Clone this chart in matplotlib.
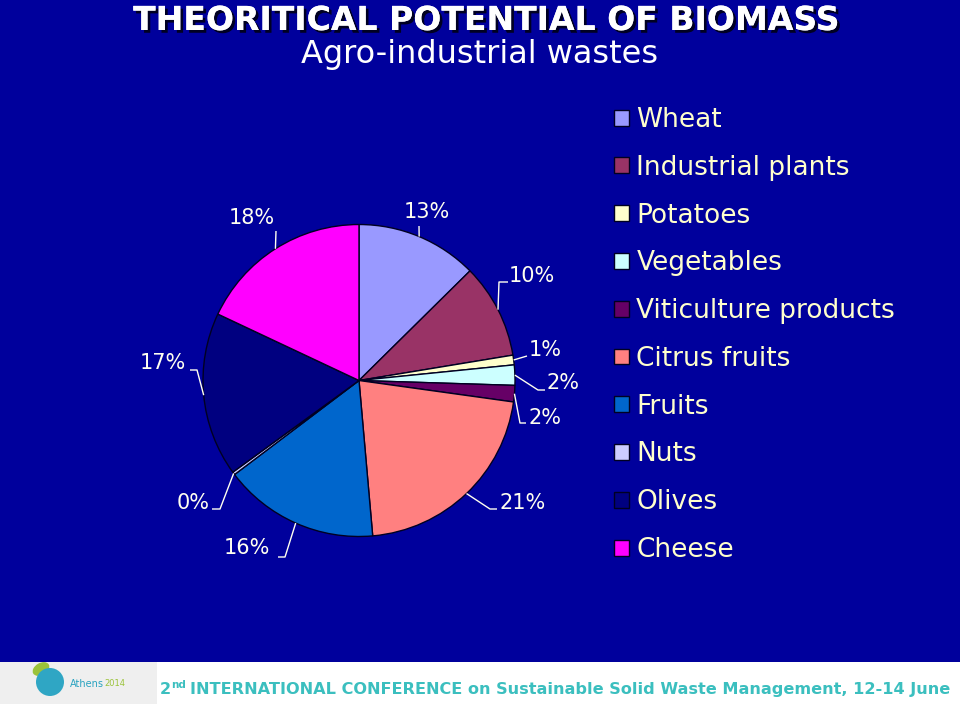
import matplotlib
matplotlib.use("Agg")
import matplotlib.pyplot as plt
import matplotlib.patheffects as pe
from matplotlib.patches import Rectangle, Circle, Ellipse
import numpy as np

W, H = 960, 704

# data
categories = ['Wheat', 'Industrial plants', 'Potatoes', 'Vegetables',
              'Viticulture products', 'Citrus fruits', 'Fruits', 'Nuts',
              'Olives', 'Cheese']
shares = [12.6, 9.8, 1.0, 2.1, 1.7, 21.4, 16.1, 0.3, 17.0, 18.0]
colors = ['#9999FF', '#993366', '#FFFFCC', '#CCFFFF', '#660066',
          '#FF8080', '#0066CC', '#CCCCFF', '#000080', '#FF00FF']

# label layout, pixel coords from top-left: text centre, elbow, tick end
label_pos = [(427, 212), (532, 276), (545, 350), (563, 383), (545, 418),
             (523, 503), (247, 548), (193, 503), (163, 363), (252, 218)]
elbows = [(419, 226), (499, 282), (527, 356), (538, 390), (520, 423),
          (490, 509), (285, 557), (220, 509), (197, 370), (276, 231)]
ticks = [(419, 226), (508, 282), (527, 356), (545, 390), (526, 423),
         (497, 509), (278, 557), (212, 509), (190, 370), (276, 231)]

BG = '#00009C'
LABEL_C = '#FFFFF0'
LEGEND_C = '#FFFFCC'


def fy(y):
    return H - y


fig = plt.figure(figsize=(W / 100, H / 100), dpi=100, facecolor=BG)
ax = fig.add_axes([0, 0, 1, 1])
ax.set_facecolor(BG)

cx, cy, r = 359, 380.5, 156
wedges, _ = ax.pie(shares, colors=colors, startangle=90, counterclock=False,
                   center=(cx, fy(cy)), radius=r,
                   wedgeprops=dict(edgecolor='#000022', linewidth=1))

for w, v, tp, el, tk in zip(wedges, shares, label_pos, elbows, ticks):
    mid = np.deg2rad((w.theta1 + w.theta2) / 2)
    ax0 = cx + r * np.cos(mid)
    ay0 = fy(cy) + r * np.sin(mid)
    ax.plot([ax0, el[0], tk[0]], [ay0, fy(el[1]), fy(tk[1])],
            color=LABEL_C, lw=1, solid_capstyle='butt')
    ax.text(tp[0], fy(tp[1]), f'{v:.0f}%', color=LABEL_C, fontsize=15,
            ha='center', va='center')

ax.set_xlim(0, W)
ax.set_ylim(0, H)
ax.set_aspect('auto')
ax.axis('off')

# title
ax.text(485, fy(30), 'THEORITICAL POTENTIAL OF BIOMASS', color='white',
        fontsize=23.8, fontweight='bold', ha='center', va='baseline',
        path_effects=[pe.withSimplePatchShadow(offset=(2, -2),
                                               shadow_rgbFace='#000022',
                                               alpha=1), pe.Normal()])
ax.text(480, fy(63), 'Agro-industrial wastes', color='white', fontsize=23,
        ha='center', va='baseline')

# legend
leg = fig.legend(wedges, categories, loc='upper left',
                 bbox_to_anchor=(614 / W, 1 - 107 / H), frameon=False,
                 fontsize=19, handlelength=0.55, handleheight=0.55,
                 handletextpad=0.3, labelspacing=0.825, borderpad=0,
                 borderaxespad=0)
for t in leg.get_texts():
    t.set_color(LEGEND_C)

# footer
ax.add_patch(Rectangle((0, 0), W, H - 662, facecolor='white',
                       edgecolor='none', zorder=5))
ax.add_patch(Rectangle((0, 0), 157, H - 662, facecolor='#EFEFEF',
                       edgecolor='none', zorder=5))
ax.add_patch(Ellipse((41, fy(669)), 18, 12, angle=30, facecolor='#9BC33A',
                     edgecolor='none', zorder=6))
ax.add_patch(Circle((50, fy(682)), 14, facecolor='#2FA6C4',
                    edgecolor='none', zorder=7))
ax.text(70, fy(684), 'Athens', color='#2AA3C0', fontsize=7, ha='left',
        va='center', zorder=8)
ax.text(104, fy(684), '2014', color='#9BC33A', fontsize=6, ha='left',
        va='center', zorder=8)

FOOT_C = '#3BBFBF'
ax.text(160, fy(694), '2', color=FOOT_C, fontsize=11.5, fontweight='bold',
        ha='left', va='baseline', zorder=8)
ax.text(171, fy(688), 'nd', color=FOOT_C, fontsize=7.5, fontweight='bold',
        ha='left', va='baseline', zorder=8)
ax.text(190, fy(694),
        'INTERNATIONAL CONFERENCE on Sustainable Solid Waste Management, 12-14 June',
        color=FOOT_C, fontsize=11.6, fontweight='bold', ha='left',
        va='baseline', zorder=8)

fig.savefig('out.png', dpi=100, facecolor=BG)
